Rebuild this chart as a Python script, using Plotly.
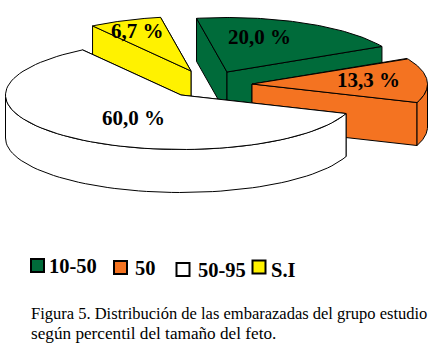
import numpy as np
import plotly.graph_objects as go

categories = ["10-50", "50", "50-95", "S.I"]
values = [20.0, 13.3, 60.0, 6.7]
colors = ["#006B3A", "#F47321", "#FFFFFF", "#FFF200"]

# geometry of the exploded, tilted pie (pixel-like axis units)
W, H = 433, 347
RX, RY, DEPTH = 175.5, 54.5, 43
START = -10.0
centers = [(227, 72), (252, 84), (181, 95), (191, 71)]
draw_order = [0, 3, 1, 2]
label_pos = [(259, 37), (368, 80), (133, 118), (137, 31)]
legend_box_x = [37.5, 120.5, 183, 259]
legend_box_y = [265.5, 267.5, 269.5, 267]
legend_text_x = [47, 133, 196, 269]
legend_text_y = [266, 268, 270, 270]

fig = go.Figure()


def poly(xs, ys, color):
    fig.add_trace(go.Scatter(
        x=list(xs) + [xs[0]], y=list(ys) + [ys[0]], mode="lines", fill="toself",
        fillcolor=color, line=dict(color="black", width=1), hoverinfo="skip",
        showlegend=False))


def rim(c, t):
    t = np.radians(t)
    return c[0] + RX * np.sin(t), c[1] - RY * np.cos(t)


shares = np.array(values) / sum(values) * 360
ends = START + np.cumsum(shares)
starts = ends - shares

for i in draw_order:
    c, col, t1, t2 = centers[i], colors[i], starts[i], ends[i]
    for t in sorted((t1, t2), key=lambda t: rim(c, t)[1]):  # cut faces, far one first
        rx, ry = rim(c, t)
        poly([c[0], rx, rx, c[0]], [c[1], ry, ry + DEPTH, c[1] + DEPTH], col)
    a, b = max(t1, 90), min(t2, 270)
    if t1 > 360:
        a, b = max(t1, 450), min(t2, 630)
    if b > a:  # outer curved wall
        ts = np.linspace(a, b, 60)
        xs, ys = rim(c, ts)
        poly(np.r_[xs, xs[::-1]], np.r_[ys, ys[::-1] + DEPTH], col)
    ts = np.linspace(t1, t2, 80)  # top face
    xs, ys = rim(c, ts)
    poly(np.r_[c[0], xs], np.r_[c[1], ys], col)

fig.add_trace(go.Scatter(
    x=legend_box_x, y=legend_box_y, mode="markers", hoverinfo="skip", showlegend=False,
    marker=dict(symbol="square", size=13, color=colors, line=dict(color="black", width=2))))

SERIF = "Liberation Serif"
ann = []
for v, (x, y) in zip(values, label_pos):
    ann.append(dict(x=x, y=y, text="<b>%s %%</b>" % f"{v:.1f}".replace(".", ","),
                    showarrow=False, font=dict(family=SERIF, size=21, color="black")))
for name, x, y in zip(categories, legend_text_x, legend_text_y):
    ann.append(dict(x=x, y=y, text=f"<b>{name}</b>", xanchor="left", showarrow=False,
                    font=dict(family=SERIF, size=20.5, color="black")))
for text, y, size in (("Figura 5. Distribución de las embarazadas del grupo estudio", 313, 16.5),
                      ("según percentil del tamaño del feto.", 333, 17.2)):
    ann.append(dict(x=29, y=y, text=text, xanchor="left", showarrow=False,
                    font=dict(family=SERIF, size=size, color="black")))

fig.update_layout(
    width=W, height=H, margin=dict(l=0, r=0, t=0, b=0),
    paper_bgcolor="white", plot_bgcolor="white", annotations=ann,
    xaxis=dict(range=[0, W], visible=False, fixedrange=True),
    yaxis=dict(range=[H, 0], visible=False, fixedrange=True),
)
fig.write_html("out.html", config=dict(displayModeBar=False),
               post_script="document.body.style.margin='0';document.documentElement.style.overflow='hidden';")
